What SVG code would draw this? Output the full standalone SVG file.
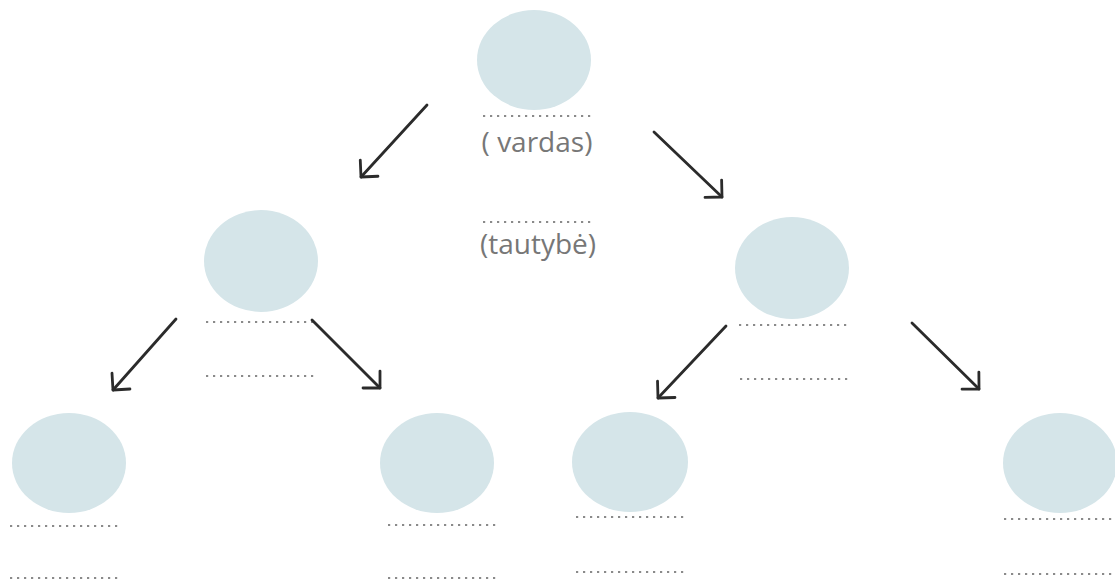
<svg xmlns="http://www.w3.org/2000/svg" width="1115" height="584" viewBox="0 0 1115 584">
<style>
.node ellipse{fill:#d5e5e9}
.dots{stroke:#8a8a8a;stroke-width:2.2;stroke-dasharray:2.2 4.8;fill:none}
.lbl{font-family:"Open Sans","Liberation Sans",sans-serif;font-size:28px;fill:#777;text-anchor:middle}
.arrow{stroke:#2b2b2b;stroke-width:2.8;fill:none;stroke-linecap:round;marker-end:url(#head)}
</style>
<defs>
<marker id="head" markerUnits="userSpaceOnUse" viewBox="-15 -14 17 28" refX="0" refY="0" markerWidth="17" markerHeight="28" orient="auto">
<path d="M-12,-12 L0,0 L-12,12" stroke="#2b2b2b" stroke-width="2.8" fill="none" stroke-linecap="round" stroke-linejoin="round"/>
</marker>
</defs>
<rect width="1115" height="584" fill="#ffffff"/>
<g id="n-top" class="node">
<ellipse cx="534" cy="60" rx="57" ry="50"/>
<line class="dots" x1="483" y1="116" x2="592" y2="116"/>
<text class="lbl" x="537" y="152">( vardas)</text>
<line class="dots" x1="483" y1="222" x2="592" y2="222"/>
<text class="lbl" x="538" y="254">(tautybė)</text>
</g>
<g id="n-midleft" class="node">
<ellipse cx="261" cy="261" rx="57" ry="51"/>
<line class="dots" x1="206" y1="322" x2="314" y2="322"/>
<line class="dots" x1="206" y1="376" x2="314" y2="376"/>
</g>
<g id="n-midright" class="node">
<ellipse cx="792" cy="268" rx="57" ry="51"/>
<line class="dots" x1="739" y1="325" x2="848" y2="325"/>
<line class="dots" x1="740" y1="379" x2="848" y2="379"/>
</g>
<g id="n-b1" class="node">
<ellipse cx="69" cy="463" rx="57" ry="50"/>
<line class="dots" x1="10" y1="526" x2="118" y2="526"/>
<line class="dots" x1="10" y1="578" x2="118" y2="578"/>
</g>
<g id="n-b2" class="node">
<ellipse cx="437" cy="463" rx="57" ry="50"/>
<line class="dots" x1="388" y1="525" x2="497" y2="525"/>
<line class="dots" x1="388" y1="578" x2="497" y2="578"/>
</g>
<g id="n-b3" class="node">
<ellipse cx="630" cy="462" rx="58" ry="50"/>
<line class="dots" x1="576" y1="517" x2="684" y2="517"/>
<line class="dots" x1="576" y1="572" x2="684" y2="572"/>
</g>
<g id="n-b4" class="node">
<ellipse cx="1060" cy="463" rx="57" ry="50"/>
<line class="dots" x1="1004" y1="519" x2="1115" y2="519"/>
<line class="dots" x1="1004" y1="574" x2="1115" y2="574"/>
</g>
<g id="connectors">
<line class="arrow" x1="427" y1="105" x2="361" y2="177"/>
<line class="arrow" x1="654" y1="132" x2="722" y2="197"/>
<line class="arrow" x1="176" y1="319" x2="113" y2="390"/>
<line class="arrow" x1="312" y1="320" x2="380" y2="388"/>
<line class="arrow" x1="726" y1="326" x2="658" y2="398"/>
<line class="arrow" x1="912" y1="323" x2="979" y2="389"/>
</g>
</svg>
